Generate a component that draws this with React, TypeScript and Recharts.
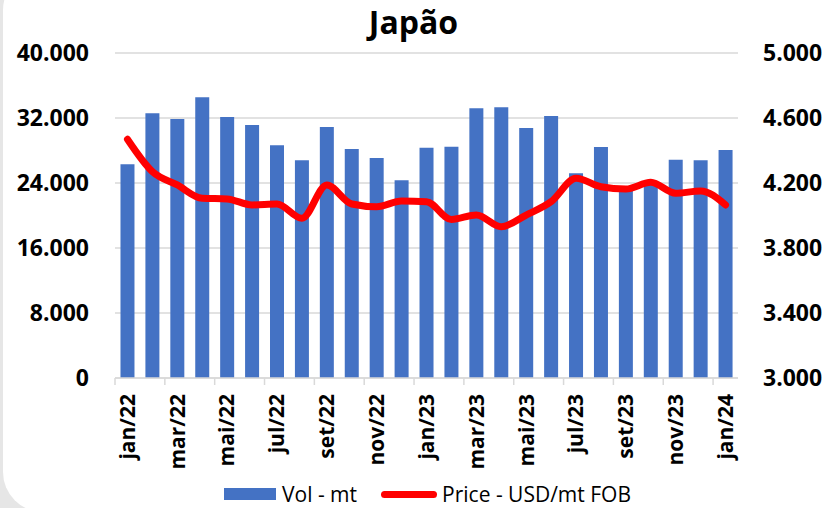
import { Bar, CartesianGrid, ComposedChart, Line, XAxis, YAxis } from "recharts";

const months = [
  "jan/22", "fev/22", "mar/22", "abr/22", "mai/22", "jun/22", "jul/22", "ago/22", "set/22", "out/22", "nov/22", "dez/22",
  "jan/23", "fev/23", "mar/23", "abr/23", "mai/23", "jun/23", "jul/23", "ago/23", "set/23", "out/23", "nov/23", "dez/23",
  "jan/24",
];
const volume = [
  26300, 32580, 31880, 34550, 32120, 31140, 28640, 26790, 30890, 28180, 27080, 24330,
  28350, 28470, 33190, 33310, 30770, 32250, 25190, 28430, 23500, 24200, 26870, 26790,
  28060,
];
const price = [
  4469, 4270, 4188, 4106, 4102, 4065, 4071, 3983, 4188, 4071, 4054, 4089,
  4085, 3976, 4003, 3931, 4003, 4085, 4229, 4177, 4163, 4204, 4137, 4151,
  4065,
];
const volTicks = [0, 8000, 16000, 24000, 32000, 40000];
const priceTicks = [3000, 3400, 3800, 4200, 4600, 5000];

const data = months.map((m, i) => ({ month: m, vol: volume[i], price: price[i] }));

const W = 827;
const H = 508;
const LEFT = 115;
const RIGHT = 89;
const band = (W - LEFT - RIGHT) / months.length;
const font = "'Open Sans', sans-serif";
const grid = "#d9d9d9";

const fmt = (v: number) => v.toLocaleString("de-DE");

function MonthTick({ x, y, payload }: any) {
  return (
    <g>
      <line x1={x - band / 2} x2={x - band / 2} y1={y} y2={y + 7} stroke={grid} strokeWidth={1.5} />
      <text
        transform={`translate(${x},${y + 16}) rotate(-90)`}
        textAnchor="end"
        dy="0.35em"
        fontSize={21}
        fontWeight={700}
        fontFamily={font}
        fill="#000"
      >
        {payload.value}
      </text>
    </g>
  );
}

export default function App() {
  const tickStyle = { fill: "#000", fontSize: 23, fontWeight: 700, fontFamily: font };
  return (
    <div style={{ position: "fixed", left: 0, top: 0, width: W, height: H, background: "#e6e6e6", overflow: "hidden" }}>
      <style>{`body{margin:0}`}</style>
      <div style={{ position: "absolute", left: 3, top: -30, width: W + 40, height: H + 34, background: "#fff", borderRadius: 40 }} />
      <div style={{ position: "absolute", left: 0, top: 0, width: W, textAlign: "center", fontFamily: font, fontWeight: 700, fontSize: 32, lineHeight: "44px", color: "#000" }}>
        Japão
      </div>
      <div style={{ position: "absolute", left: 0, top: 0 }}>
        <ComposedChart width={W} height={H} data={data} margin={{ top: 53, right: 0, bottom: 40, left: 0 }} barCategoryGap="22%">
          <CartesianGrid yAxisId="vol" vertical={false} stroke={grid} strokeWidth={1.5} />
          <XAxis
            dataKey="month"
            interval={1}
            height={90}
            tickSize={0}
            tickMargin={0}
            tickLine={false}
            axisLine={{ stroke: grid, strokeWidth: 1.5 }}
            tick={<MonthTick />}
          />
          <YAxis
            yAxisId="vol"
            width={LEFT}
            domain={[0, 40000]}
            ticks={volTicks}
            tickFormatter={fmt}
            axisLine={false}
            tickLine={false}
            tickSize={0}
            tickMargin={26}
            tick={tickStyle}
          />
          <YAxis
            yAxisId="price"
            orientation="right"
            width={RIGHT}
            domain={[3000, 5000]}
            ticks={priceTicks}
            tickFormatter={fmt}
            axisLine={false}
            tickLine={false}
            tickSize={0}
            tickMargin={25}
            tick={{ ...tickStyle, textAnchor: "start" }}
          />
          <Bar yAxisId="vol" dataKey="vol" name="Vol - mt" fill="#4472c4" isAnimationActive={false} />
          <Line
            yAxisId="price"
            type="monotone"
            dataKey="price"
            name="Price - USD/mt FOB"
            stroke="#ff0000"
            strokeWidth={7}
            strokeLinecap="round"
            dot={false}
            activeDot={false}
            isAnimationActive={false}
          />
        </ComposedChart>
      </div>
      <div style={{ position: "absolute", left: 0, top: 480, width: W, boxSizing: "border-box", paddingLeft: 28, display: "flex", justifyContent: "center", alignItems: "center", fontFamily: font, fontSize: 21, color: "#000" }}>
        <span style={{ display: "inline-block", width: 52, height: 12, background: "#4472c4", marginRight: 6 }} />
        <span>Vol - mt</span>
        <span style={{ display: "inline-block", width: 56, height: 7, borderRadius: 4, background: "#ff0000", marginLeft: 24, marginRight: 5 }} />
        <span>Price - USD/mt FOB</span>
      </div>
    </div>
  );
}
